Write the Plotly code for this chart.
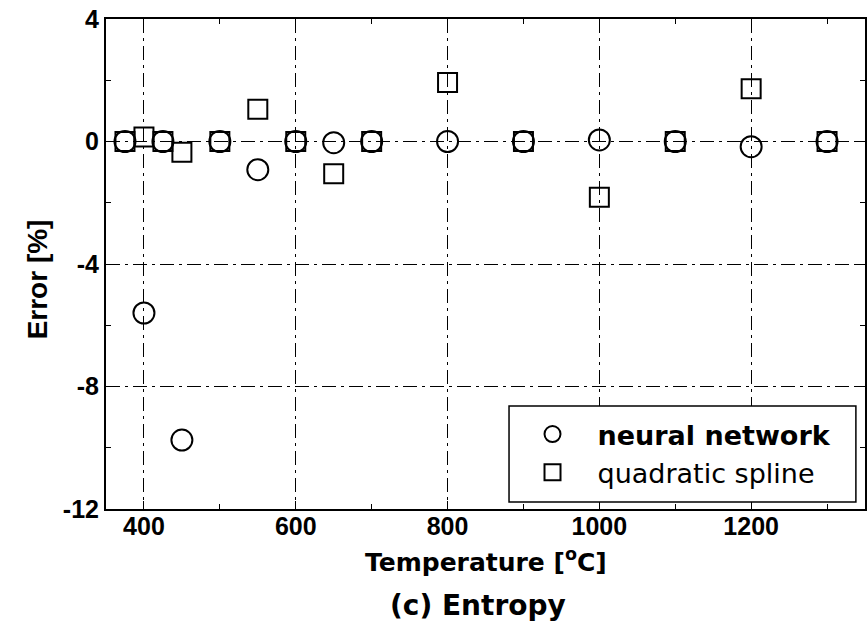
import plotly.graph_objects as go

# ---- data ----
temperature = [375, 400, 425, 450, 500, 550, 600, 650, 700, 800, 900, 1000, 1100, 1200, 1300]
err_neural = [0, -5.6, 0, -9.75, 0, -0.92, 0, -0.04, 0, 0, 0, 0.05, 0, -0.17, 0]
err_spline = [0, 0.15, 0, -0.35, 0, 1.05, 0, -1.05, 0, 1.93, 0, -1.82, 0, 1.72, 0]

x_tickvals = [400, 600, 800, 1000, 1200]
x_ticktext = ["400", "600", "800", "1000", "1200"]
y_tickvals = [-12, -8, -4, 0, 4]
y_ticktext = ["-12", "-8", "-4", "0", "4"]

ARIAL = "Liberation Sans, Arial, sans-serif"
DEJAVU = "DejaVu Sans, sans-serif"
GRID_DASH = "14px,5px,3px,5px"

fig = go.Figure()
fig.add_trace(go.Scatter(
    x=temperature, y=err_neural, mode="markers",
    name="<b>neural network</b>",
    marker=dict(symbol="circle-open", size=21, color="black", line=dict(width=2, color="black")),
))
fig.add_trace(go.Scatter(
    x=temperature, y=err_spline, mode="markers",
    name="quadratic spline",
    marker=dict(symbol="square-open", size=19, color="black", line=dict(width=2, color="black")),
))

axis_common = dict(
    showline=True, linecolor="black", linewidth=2, mirror="ticks",
    ticks="inside", ticklen=8, tickwidth=1, tickcolor="black",
    showgrid=True, gridcolor="black", gridwidth=1, griddash=GRID_DASH,
    zeroline=False, automargin=False, ticklabeloverflow="allow",
    tickfont=dict(family=ARIAL, size=25, color="black", weight="bold"),
)

fig.update_xaxes(
    range=[350, 1350], tickmode="array", tickvals=x_tickvals, ticktext=x_ticktext,
    minor=dict(dtick=100, tick0=300, ticks="inside", ticklen=5, tickcolor="black", showgrid=False),
    ticklabelstandoff=-6,
    **axis_common,
)
fig.update_yaxes(
    range=[-12, 4], tickmode="array", tickvals=y_tickvals, ticktext=y_ticktext,
    minor=dict(dtick=2, tick0=0, ticks="inside", ticklen=5, tickcolor="black", showgrid=False),
    ticklabelstandoff=0,
    **axis_common,
)

fig.update_layout(
    width=867, height=631,
    margin=dict(l=106, r=2, t=19, b=122),
    paper_bgcolor="white", plot_bgcolor="white",
    showlegend=True,
    legend=dict(
        x=0.529, y=0.202, xanchor="left", yanchor="top",
        bgcolor="rgba(0,0,0,0)", borderwidth=0,
        font=dict(family=DEJAVU, size=27, color="black"),
        itemwidth=80,
    ),
    shapes=[
        dict(type="rect", xref="paper", yref="paper",
             x0=0.531, x1=0.988, y0=0.0143, y1=0.210,
             line=dict(color="black", width=1.5), fillcolor="white", layer="above"),
    ],
    annotations=[
        dict(text="<b>Temperature [<sup>o</sup>C]</b>", x=0.5, y=-0.067, xref="paper", yref="paper",
             xanchor="center", yanchor="top", showarrow=False,
             font=dict(family=DEJAVU, size=25, color="black")),
        dict(text="<b>(c) Entropy</b>", x=0.49, y=-0.16, xref="paper", yref="paper",
             xanchor="center", yanchor="top", showarrow=False,
             font=dict(family=DEJAVU, size=28, color="black")),
        dict(text="<b>Error [%]</b>", x=-0.09, y=0.468, xref="paper", yref="paper",
             xanchor="center", yanchor="middle", showarrow=False, textangle=-90,
             font=dict(family=ARIAL, size=28, color="black")),
    ],
)

page_css = ("document.body.style.margin='0';"
            "document.body.style.overflow='hidden';"
            "document.documentElement.style.overflow='hidden';")
fig.write_html("out.html", post_script=page_css, config={"displayModeBar": False})
